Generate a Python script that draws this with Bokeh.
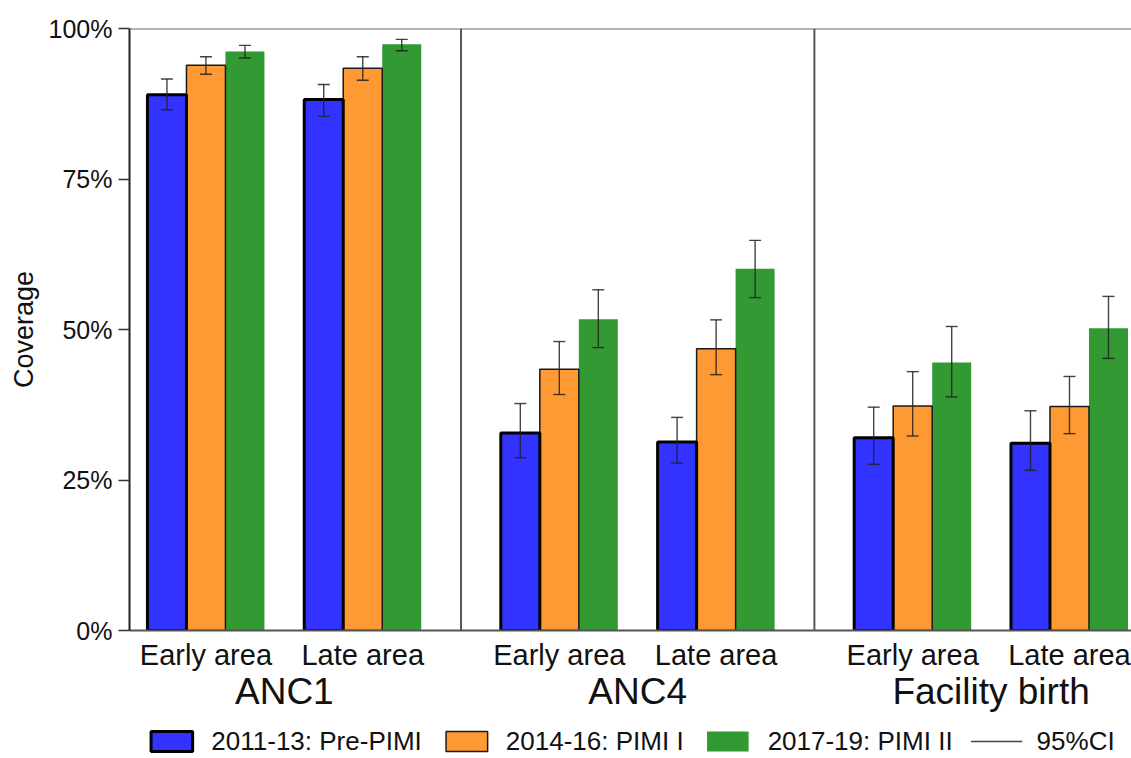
from bokeh.plotting import figure
from bokeh.layouts import column
from bokeh.models import (ColumnDataSource, Range1d, FixedTicker, LinearAxis, Span,
                          Legend, LegendItem, PrintfTickFormatter)
from bokeh.embed import file_html
from bokeh.resources import INLINE

# ---------------- data ----------------
indicators = ["ANC1", "ANC4", "Facility birth"]
areas = ["Early area", "Late area"]
periods = ["2011-13: Pre-PIMI", "2014-16: PIMI I", "2017-19: PIMI II"]

# values ordered: ANC1 early, ANC1 late, ANC4 early, ANC4 late, Facility early, Facility late
pre_pimi = [89.0, 88.2, 32.8, 31.3, 32.0, 31.1]
pre_pimi_lo = [86.5, 85.4, 28.7, 27.8, 27.6, 26.6]
pre_pimi_hi = [91.6, 90.7, 37.7, 35.4, 37.1, 36.5]

pimi1 = [93.9, 93.4, 43.4, 46.8, 37.3, 37.2]
pimi1_lo = [92.4, 91.4, 39.2, 42.5, 32.3, 32.7]
pimi1_hi = [95.3, 95.3, 48.0, 51.6, 43.0, 42.2]

pimi2 = [96.2, 97.4, 51.7, 60.1, 44.5, 50.2]
pimi2_lo = [95.1, 96.3, 47.0, 55.3, 38.8, 45.2]
pimi2_hi = [97.2, 98.2, 56.6, 64.8, 50.5, 55.5]

y_ticks = [0, 25, 50, 75, 100]

series = [(pre_pimi, pre_pimi_lo, pre_pimi_hi),
          (pimi1, pimi1_lo, pimi1_hi),
          (pimi2, pimi2_lo, pimi2_hi)]

# ---------------- layout (x units = one bar width) ----------------
PAD_LEFT = [0.46, 1.02, 1.02]
GAP = 1.02
PAD_RIGHT = 1.02
NB = len(periods)

panel_start = [0.0]
for i in range(len(indicators) - 1):
    panel_start.append(panel_start[-1] + PAD_LEFT[i] + 2 * NB + GAP + PAD_RIGHT)

def bar_x(p, a, k):
    return panel_start[p] + PAD_LEFT[p] + a * (NB + GAP) + k + 0.5

group_centers, group_labels = [], []
panel_centers, panel_labels = [], []
for p_i, ind in enumerate(indicators):
    for a, ar in enumerate(areas):
        group_centers.append(panel_start[p_i] + PAD_LEFT[p_i] + a * (NB + GAP) + NB / 2)
        group_labels.append(ar)
    panel_centers.append(panel_start[p_i] + PAD_LEFT[p_i] + (2 * NB + GAP) / 2)
    panel_labels.append(ind)

FONT = "Liberation Sans"
TXT = "#111111"
W = 1131
LEG_H = 34
LEFT = 129

p = figure(width=W, height=758 - LEG_H, output_backend="svg", toolbar_location=None,
           x_range=Range1d(0, 25.69), y_range=Range1d(0, 100),
           min_border_left=LEFT, min_border_right=0, min_border_top=28,
           min_border_bottom=94)
p.outline_line_color = None
p.xgrid.visible = False
p.ygrid.visible = False

colors = ["#3333FF", "#FF9933", "#339933"]
line_colors = ["#000000", "#1a1a1a", None]
line_widths = [3, 1.5, 0]

for k in [2, 1, 0]:
    vals, lo, hi = series[k]
    xs = [bar_x(pi, ai, k) for pi in range(len(indicators)) for ai in range(len(areas))]
    src = ColumnDataSource(dict(x=xs, top=vals))
    p.vbar(x="x", top="top", bottom=0, width=1.0, source=src,
           fill_color=colors[k], line_color=line_colors[k], line_width=line_widths[k])

# error bars
ex, elo, ehi = [], [], []
for k in range(NB):
    vals, lo, hi = series[k]
    i = 0
    for pi in range(len(indicators)):
        for ai in range(len(areas)):
            ex.append(bar_x(pi, ai, k))
            elo.append(lo[i])
            ehi.append(hi[i])
            i += 1
esrc = ColumnDataSource(dict(x=ex, lo=elo, hi=ehi))
EB = dict(line_color="#222222", line_alpha=0.85, line_width=1.4)
p.segment(x0="x", y0="lo", x1="x", y1="hi", source=esrc, **EB)
p.scatter(x="x", y="lo", source=esrc, marker="dash", size=12, **EB)
p.scatter(x="x", y="hi", source=esrc, marker="dash", size=12, **EB)

# panel separators and top border
for s in panel_start[1:]:
    p.add_layout(Span(location=s, dimension="height", line_color="#555555", line_width=2))
p.add_layout(Span(location=100, dimension="width", line_color="#666666", line_width=2))

# y axis
ya = p.yaxis[0]
ya.ticker = FixedTicker(ticks=y_ticks)
ya.formatter = PrintfTickFormatter(format="%d%%")
ya.axis_label = "Coverage"
ya.axis_label_text_font = FONT
ya.axis_label_text_font_size = "27px"
ya.axis_label_text_font_style = "normal"
ya.axis_label_text_color = TXT
ya.axis_label_standoff = 7
ya.major_label_text_font = FONT
ya.major_label_text_font_size = "25px"
ya.major_label_text_color = TXT
ya.major_label_standoff = 6
ya.major_tick_out = 11
ya.major_tick_in = 0
ya.minor_tick_out = 0
ya.minor_tick_in = 0
ya.major_tick_line_color = "#333333"
ya.major_tick_line_width = 1.5
ya.axis_line_color = "#222222"
ya.axis_line_width = 2

# x axis: area labels
xa = p.xaxis[0]
xa.ticker = FixedTicker(ticks=group_centers)
xa.major_label_overrides = {c: l for c, l in zip(group_centers, group_labels)}
xa.major_label_text_font = FONT
xa.major_label_text_font_size = "29px"
xa.major_label_text_color = TXT
xa.major_label_standoff = 8
xa.major_tick_out = 0
xa.major_tick_in = 0
xa.minor_tick_out = 0
xa.minor_tick_in = 0
xa.axis_line_color = "#555555"
xa.axis_line_width = 2

# x axis: indicator labels
xa2 = LinearAxis(ticker=FixedTicker(ticks=panel_centers),
                 major_label_overrides={c: l for c, l in zip(panel_centers, panel_labels)})
xa2.major_label_text_font = FONT
xa2.major_label_text_font_size = "37px"
xa2.major_label_text_color = TXT
xa2.major_label_standoff = -3
xa2.major_tick_out = 0
xa2.major_tick_in = 0
xa2.minor_tick_out = 0
xa2.minor_tick_in = 0
xa2.axis_line_color = None
p.add_layout(xa2, "below")

# ---------------- legend strip ----------------
lf = figure(width=W, height=LEG_H, output_backend="svg", toolbar_location=None,
            x_range=Range1d(0, 1), y_range=Range1d(0, 1),
            min_border_left=LEFT, min_border_right=0, min_border_top=0, min_border_bottom=0)
lf.axis.visible = False
lf.grid.visible = False
lf.outline_line_color = None

nan = float("nan")
leg_renderers = []
for k in range(NB):
    r = lf.vbar(x=[nan], top=[nan], width=1.0, fill_color=colors[k],
                line_color=line_colors[k], line_width=line_widths[k])
    leg_renderers.append(r)
ci_r = lf.segment(x0=[nan], y0=[nan], x1=[nan], y1=[nan], line_color="#444444", line_width=1.4)

items = [LegendItem(label=periods[k], renderers=[leg_renderers[k]]) for k in range(NB)]
items.append(LegendItem(label="95%CI", renderers=[ci_r]))
leg = Legend(items=items, orientation="horizontal", location="center",
             label_text_font=FONT, label_text_font_size="26px", label_text_color=TXT,
             glyph_width=52, glyph_height=25, label_standoff=14, spacing=18,
             padding=0, margin=0, border_line_color=None, background_fill_alpha=0)
lf.add_layout(leg, "center")

layout = column(p, lf, spacing=0)
open("out.html", "w").write(file_html(layout, INLINE))
